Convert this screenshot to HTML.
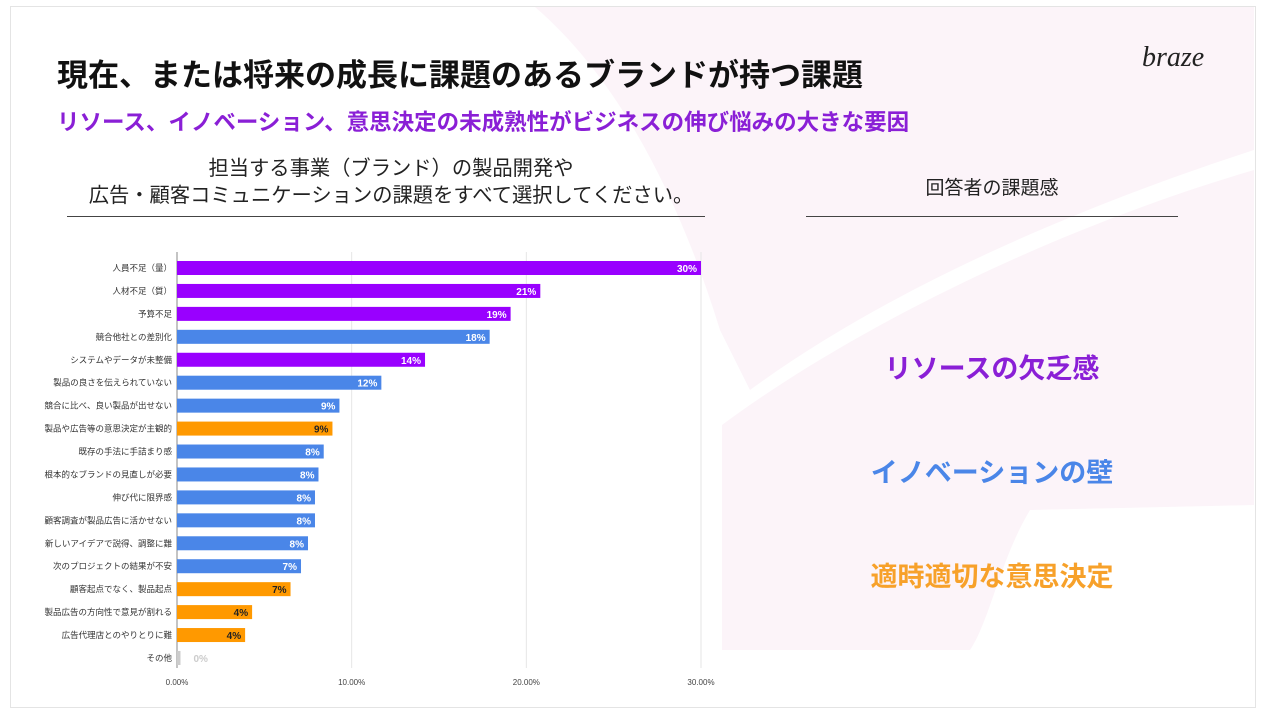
<!DOCTYPE html>
<html><head><meta charset="utf-8">
<style>
body{margin:0;width:1272px;height:728px;background:#fff;font-family:"Liberation Sans","Noto Sans CJK JP",sans-serif;position:relative;overflow:hidden}
.abs{position:absolute;white-space:nowrap}
</style></head><body>
<div class="abs" style="left:10px;top:6px;width:1244px;height:700px;border:1px solid #e4e4e4"></div>
<svg class="abs" style="left:0;top:0" width="1272" height="728">
<path d="M535,7 L1254,7 L1254,150 C1100,200 900,280 750,390 L720,330 C680,200 620,80 535,7 Z" fill="#fcf4f9"/>
<path d="M722,425 C850,330 1050,230 1254,170 L1254,505 L1030,510 C1000,560 990,620 970,650 L722,650 Z" fill="#fcf4f9"/>
</svg>
<div class="abs" style="left:57px;top:50px;font-size:31px;font-weight:bold;color:#111">現在、または将来の成長に課題のあるブランドが持つ課題</div>
<div class="abs" style="left:57px;top:105px;font-size:22.5px;font-weight:bold;color:#8a1fd6">リソース、イノベーション、意思決定の未成熟性がビジネスの伸び悩みの大きな要因</div>
<div class="abs" style="left:1142px;top:42px;font-size:28px;font-style:italic;font-family:'Liberation Serif',serif;color:#222">braze</div>
<div class="abs" style="left:57px;width:668px;top:156px;text-align:center;font-size:20.3px;line-height:27px;color:#222;white-space:normal">担当する事業（ブランド）の製品開発や<br>広告・顧客コミュニケーションの課題をすべて選択してください。</div>
<div class="abs" style="left:67px;top:216px;width:638px;height:1px;background:#444"></div>
<div class="abs" style="left:806px;width:372px;top:173px;text-align:center;font-size:19px;color:#222">回答者の課題感</div>
<div class="abs" style="left:806px;top:216px;width:372px;height:1px;background:#444"></div>
<div class="abs" style="left:806px;width:372px;top:347px;text-align:center;font-size:27px;font-weight:bold;color:#8a1fd6">リソースの欠乏感</div>
<div class="abs" style="left:806px;width:372px;top:451px;text-align:center;font-size:27px;font-weight:bold;color:#4a86e8">イノベーションの壁</div>
<div class="abs" style="left:806px;width:372px;top:555px;text-align:center;font-size:27px;font-weight:bold;color:#f7a12a">適時適切な意思決定</div>
<svg id="chart" class="abs" style="left:0;top:0" width="760" height="700"></svg>
<script>
const categories=["人員不足（量）","人材不足（質）","予算不足","競合他社との差別化","システムやデータが未整備","製品の良さを伝えられていない","競合に比べ、良い製品が出せない","製品や広告等の意思決定が主観的","既存の手法に手詰まり感","根本的なブランドの見直しが必要","伸び代に限界感","顧客調査が製品広告に活かせない","新しいアイデアで説得、調整に難","次のプロジェクトの結果が不安","顧客起点でなく、製品起点","製品広告の方向性で意見が割れる","広告代理店とのやりとりに難","その他"];
const values=[30,20.8,19.1,17.9,14.2,11.7,9.3,8.9,8.4,8.1,7.9,7.9,7.5,7.1,6.5,4.3,3.9,0.2];
const groups=["r","r","r","i","r","i","i","d","i","i","i","i","i","i","d","d","d","o"];
const ticks=[0,10,20,30];
const NS="http://www.w3.org/2000/svg",svg=document.getElementById("chart");
const x=v=>177+v*(701-177)/30, y=i=>268+i*22.94;
const col={r:"#9900ff",i:"#4a86e8",d:"#ff9900",o:"#cccccc"};
function mk(t,a,txt){const e=document.createElementNS(NS,t);for(const k in a)e.setAttribute(k,a[k]);if(txt!=null)e.textContent=txt;svg.appendChild(e);return e;}
ticks.forEach(t=>{
 const g=mk("line",{x1:x(t),x2:x(t),y1:252,y2:668,stroke:t?"#e6e6e6":"#888","stroke-width":1});
 
 
 const l=mk("text",{x:x(t),y:685,"text-anchor":"middle","font-size":8,fill:"#444"},t.toFixed(2)+"%");
 
 
});
categories.forEach((c,i)=>{
 const b=mk("rect",{x:x(0),y:y(i)-7,width:Math.max(x(values[i])-x(0),2),height:14,fill:col[groups[i]]});
 
 
 const l=mk("text",{x:172,y:y(i)+3,"text-anchor":"end","font-size":8.5,fill:"#333"},c);
 
 
 const lab=Math.round(values[i])+"%";
 const other=groups[i]==="o";
 const v=mk("text",{x:other?x(values[i])+13:x(values[i])-4,y:y(i)+4,"text-anchor":other?"start":"end","font-size":10,"font-weight":"bold",fill:other?"#ccc":(groups[i]==="d"?"#222":"#fff")},lab);
 
 
});
</script>
</body></html>
